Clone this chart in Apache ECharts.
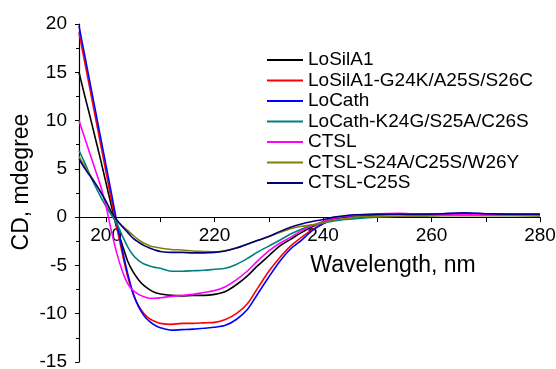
<!DOCTYPE html>
<html>
<head>
<meta charset="utf-8">
<script src="https://cdn.jsdelivr.net/npm/echarts@6/dist/echarts.min.js"></script>
<style>
  html, body {margin: 0; padding: 0; background: #fff;}
  #main {width: 556px; height: 369px;}
</style>
</head>
<body>
<div id="main"></div>
<script>
// wavelength grid, nm
const wavelengths = [195, 196, 197, 198, 199, 200, 201, 202, 203, 204, 205, 206, 207, 208, 209, 210,
  212, 214, 216, 218, 220, 222, 224, 226, 228, 230, 232, 234, 236, 238, 240, 242, 244, 246,
  250, 254, 258, 262, 266, 270, 275, 280];

const names = ['LoSilA1', 'LoSilA1-G24K/A25S/S26C', 'LoCath', 'LoCath-K24G/S25A/C26S',
  'CTSL', 'CTSL-S24A/C25S/W26Y', 'CTSL-C25S'];
const colors = ['#000000', '#ff0000', '#0000ff', '#008080', '#ff00ff', '#808000', '#000080'];

const losila1 = [15.0, 12.7, 10.5, 8.2, 5.9, 3.5, 1.1, -1.2, -2.9, -4.6, -5.7, -6.5, -7.1, -7.5, -7.8, -7.95,
  -8.1, -8.15, -8.1, -8.1, -8.0, -7.7, -7.0, -6.1, -5.0, -4.0, -3.0, -2.3, -1.6, -1.0, -0.5, -0.15, 0.05, 0.15,
  0.25, 0.3, 0.25, 0.3, 0.3, 0.3, 0.25, 0.25];
const losila1Mut = [19.1, 16.2, 13.3, 10.4, 7.5, 4.6, 1.7, -1.1, -3.8, -6.2, -8.0, -9.2, -10.0, -10.5, -10.8, -11.0,
  -11.1, -11.0, -11.0, -10.95, -10.9, -10.6, -10.0, -9.0, -7.3, -5.6, -4.2, -3.0, -2.1, -1.3, -0.65, -0.2, 0.05, 0.15,
  0.25, 0.3, 0.3, 0.3, 0.35, 0.3, 0.3, 0.3];
const locath = [19.8, 16.9, 14.0, 11.1, 8.2, 5.3, 2.4, -0.6, -3.4, -5.9, -7.9, -9.3, -10.2, -10.8, -11.2, -11.45,
  -11.7, -11.65, -11.6, -11.5, -11.4, -11.2, -10.6, -9.6, -7.9, -6.2, -4.6, -3.3, -2.4, -1.4, -0.7, -0.2, 0.0, 0.15,
  0.25, 0.3, 0.3, 0.35, 0.4, 0.35, 0.3, 0.3];
const locathMut = [6.9, 5.7, 4.4, 3.2, 2.1, 1.1, 0.2, -0.7, -1.95, -3.1, -3.95, -4.5, -4.85, -5.05, -5.2, -5.3,
  -5.6, -5.6, -5.55, -5.5, -5.4, -5.3, -4.9, -4.3, -3.6, -3.0, -2.4, -1.75, -1.25, -0.85, -0.6, -0.4, -0.25, -0.15,
  0.0, 0.1, 0.15, 0.2, 0.2, 0.2, 0.2, 0.2];
const ctsl = [10.0, 8.3, 6.6, 4.9, 3.2, 1.1, -1.5, -3.8, -5.6, -6.9, -7.6, -8.0, -8.25, -8.4, -8.4, -8.35,
  -8.2, -8.1, -8.0, -7.8, -7.6, -7.2, -6.5, -5.6, -4.5, -3.5, -2.7, -2.1, -1.4, -0.9, -0.45, -0.1, 0.1, 0.2,
  0.35, 0.4, 0.3, 0.3, 0.3, 0.3, 0.25, 0.25];
const ctslTriple = [6.3, 5.3, 4.4, 3.5, 2.6, 1.6, 0.5, -0.4, -0.9, -1.4, -1.9, -2.35, -2.7, -2.95, -3.1, -3.2,
  -3.35, -3.4, -3.5, -3.55, -3.6, -3.45, -3.2, -2.8, -2.4, -2.0, -1.6, -1.2, -0.95, -0.8, -0.55, -0.3, -0.15, 0.0,
  0.1, 0.1, 0.1, 0.15, 0.15, 0.15, 0.15, 0.1];
const ctslC25S = [6.0, 5.1, 4.3, 3.5, 2.6, 1.6, 0.5, -0.3, -1.0, -1.6, -2.2, -2.6, -2.95, -3.2, -3.4, -3.55,
  -3.65, -3.65, -3.7, -3.7, -3.65, -3.5, -3.2, -2.8, -2.4, -2.0, -1.5, -1.05, -0.7, -0.45, -0.25, 0.0, 0.15, 0.25,
  0.3, 0.3, 0.3, 0.35, 0.45, 0.35, 0.3, 0.3];

const values = [losila1, losila1Mut, locath, locathMut, ctsl, ctslTriple, ctslC25S];

const xTicks = [200, 210, 220, 230, 240, 250, 260, 270, 280];
const xLabels = [200, 220, 240, 260, 280];

const font = 'Liberation Sans, Arial, sans-serif';
const chart = echarts.init(document.getElementById('main'));

// x axis sits on y = 0: lift it from the grid bottom by 15 units of the y scale
const gridTop = 24, gridBottom = 7, yMin = -15, yMax = 20;
const zeroOffset = (369 - gridTop - gridBottom) * (0 - yMin) / (yMax - yMin);

chart.setOption({
  animation: false,
  backgroundColor: '#fff',
  grid: {left: 79, right: 16, top: gridTop, bottom: gridBottom, outerBoundsMode: 'none', containLabel: false},
  legend: {
    orient: 'vertical',
    left: 262,
    top: 45,
    icon: 'rect',
    itemWidth: 36,
    itemHeight: 2,
    itemGap: 0.5,
    data: names,
    textStyle: {color: '#000', fontSize: 19, fontFamily: font, lineHeight: 20}
  },
  xAxis: {
    type: 'value',
    min: 195,
    max: 280,
    offset: -zeroOffset,
    name: 'Wavelength, nm',
    nameLocation: 'middle',
    nameGap: 37,
    nameTextStyle: {color: '#000', fontSize: 23, fontFamily: font, padding: [0, 0, 0, 167]},
    axisLine: {onZero: false, lineStyle: {color: '#000', width: 1.2}},
    axisTick: {length: 5, lineStyle: {color: '#000'}, customValues: xTicks},
    axisLabel: {color: '#000', fontSize: 19, fontFamily: font, margin: 9, customValues: xLabels},
    splitLine: {show: false}
  },
  yAxis: {
    type: 'value',
    min: yMin,
    max: yMax,
    interval: 5,
    name: 'CD, mdegree',
    nameLocation: 'middle',
    nameGap: 46,
    nameMoveOverlap: false,
    nameRotate: 90,
    nameTextStyle: {color: '#000', fontSize: 23, fontFamily: font, padding: [0, 0, 0, 22]},
    axisLine: {show: true, lineStyle: {color: '#000', width: 1.2}},
    axisTick: {show: true, length: 4, lineStyle: {color: '#000'}},
    minorTick: {show: true, splitNumber: 2, length: 3, lineStyle: {color: '#000'}},
    axisLabel: {color: '#000', fontSize: 19, fontFamily: font, margin: 12},
    splitLine: {show: false}
  },
  series: names.map((name, i) => ({
    name: name,
    type: 'line',
    data: wavelengths.map((w, j) => [w, values[i][j]]),
    showSymbol: false,
    smooth: 0.3,
    lineStyle: {color: colors[i], width: 1.6},
    itemStyle: {color: colors[i]}
  }))
});
</script>
</body>
</html>
